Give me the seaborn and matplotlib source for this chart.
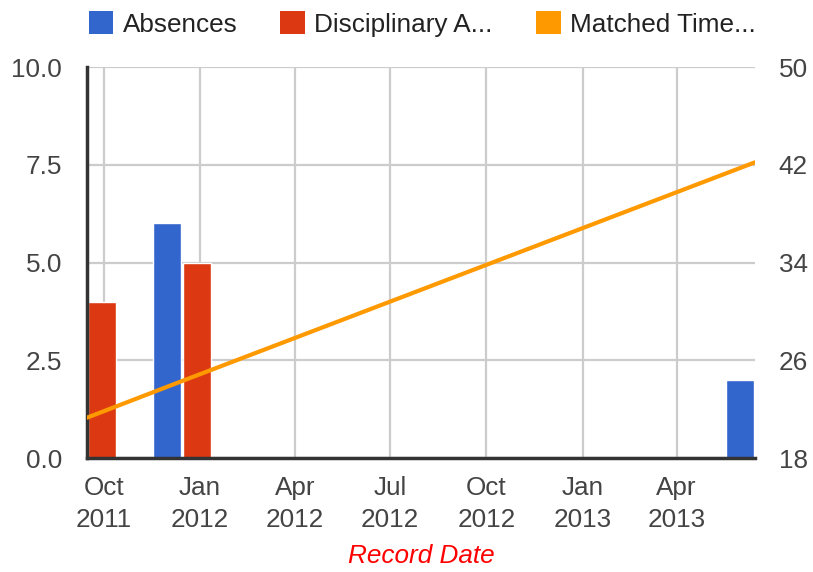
import matplotlib
matplotlib.use("Agg")
import matplotlib.pyplot as plt
import matplotlib.dates as mdates
from matplotlib.patches import Patch
import seaborn as sns
import pandas as pd

# ---- data ----
record_dates = ["2011-09-15", "2011-12-15", "2013-06-15"]
absences = [0, 6, 2]
disciplinary = [4, 5, 2]
matched_time = [21.3, 24.3, 42.2]
series_names = ["Absences", "Disciplinary A...", "Matched Time..."]
colors = ["#3366CC", "#DC3912", "#FF9900"]
left_ticks = [0.0, 2.5, 5.0, 7.5, 10.0]
right_ticks = [18, 26, 34, 42, 50]

sns.set_theme(style="white")
plt.rcParams['font.family'] = ['Liberation Sans', 'DejaVu Sans']

dates = pd.to_datetime(record_dates)
xnum = mdates.date2num(dates.to_pydatetime())

df = pd.DataFrame({
    "x": list(xnum) * 2,
    "value": absences + disciplinary,
    "series": [series_names[0]] * 3 + [series_names[1]] * 3,
})

FS = 18.8

fig = plt.figure(figsize=(8.13, 5.72), dpi=100)
ax = fig.add_axes([87/813, 1 - 458/572, (755-87)/813, (458-67)/572])

sns.barplot(data=df, x="x", y="value", hue="series", native_scale=True,
            dodge=True, width=0.63, gap=0.07, errorbar=None,
            palette=colors[:2], ax=ax, legend=False, saturation=1)

ax2 = ax.twinx()
sns.lineplot(x=xnum, y=matched_time, ax=ax2, color=colors[2], linewidth=3,
             legend=False)

# axes ranges
ax.set_xlim(xnum[0], xnum[-1])
ax.set_ylim(0, 10)
ax2.set_ylim(18, 50)
ax.set_yticks(left_ticks)
ax.set_yticklabels([f"{v:.1f}" for v in left_ticks])
ax2.set_yticks(right_ticks)
ax2.set_yticklabels([str(v) for v in right_ticks])

ax.xaxis.set_major_locator(mdates.MonthLocator(bymonth=[1, 4, 7, 10], bymonthday=1))
ax.xaxis.set_major_formatter(mdates.DateFormatter("%b\n%Y"))

ax.set_xlabel("")
ax.set_ylabel("")
ax2.set_ylabel("")

# grid
ax.set_axisbelow(True)
ax.grid(True, color="#CCCCCC", linewidth=1.6)

# spines
for s in ["top", "right"]:
    ax.spines[s].set_visible(False)
for s in ax2.spines.values():
    s.set_visible(False)
for s in ["left", "bottom"]:
    ax.spines[s].set_color("#333333")
    ax.spines[s].set_linewidth(2.5)

tick_color = "#444444"
ax.tick_params(axis="x", length=0, pad=13, labelsize=FS, colors=tick_color)
ax.tick_params(axis="y", length=0, pad=18, labelsize=FS, colors=tick_color)
ax2.tick_params(axis="y", length=0, pad=17, labelsize=FS, colors=tick_color)
for lbl in ax.get_xticklabels():
    lbl.set_linespacing(1.4)

fig.text(421/813, 1 - 556/572, "Record Date", color="#FF0000", style="italic",
         fontsize=FS, ha="center", va="center")

handles = [Patch(facecolor=c, edgecolor="none") for c in colors]
leg = fig.legend(handles, series_names, loc="center", bbox_to_anchor=(422/813, 1 - 24/572),
                 ncol=3, frameon=False, fontsize=FS, handlelength=0.95, handleheight=0.95,
                 handletextpad=0.35, columnspacing=1.65, borderaxespad=0)
for t in leg.get_texts():
    t.set_color("#222222")

fig.savefig("out.png", dpi=100)
